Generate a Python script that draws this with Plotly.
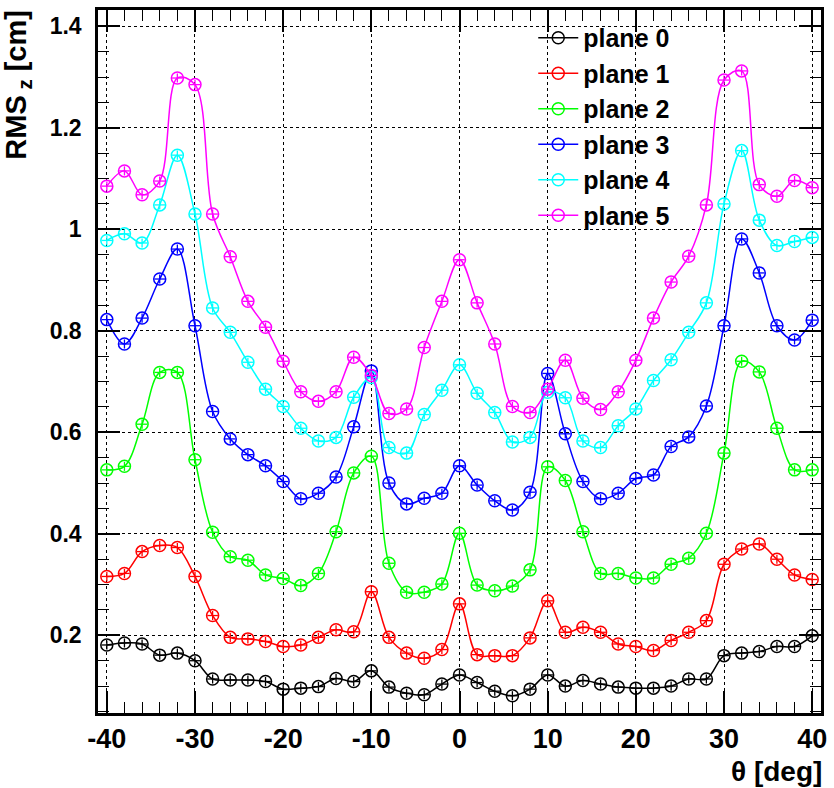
import plotly.graph_objects as go

# Scan angle in degrees
theta = list(range(-40, 41, 2))

# RMS_z [cm] per plane
plane0 = [0.181, 0.185, 0.183, 0.161, 0.165, 0.150, 0.114, 0.112, 0.112, 0.109,
          0.094, 0.096, 0.099, 0.115, 0.109, 0.130, 0.098, 0.086, 0.083, 0.104,
          0.122,
          0.107, 0.090, 0.081, 0.094, 0.122, 0.100, 0.111, 0.104, 0.098, 0.096,
          0.096, 0.100, 0.114, 0.114, 0.160, 0.165, 0.168, 0.178, 0.178, 0.199]
plane1 = [0.316, 0.322, 0.365, 0.377, 0.373, 0.316, 0.239, 0.196, 0.193, 0.188,
          0.178, 0.181, 0.196, 0.211, 0.207, 0.286, 0.196, 0.165, 0.155, 0.172,
          0.262,
          0.162, 0.160, 0.160, 0.195, 0.268, 0.206, 0.216, 0.206, 0.183, 0.178,
          0.170, 0.190, 0.206, 0.229, 0.340, 0.370, 0.380, 0.350, 0.319, 0.310]
plane2 = [0.526, 0.533, 0.616, 0.718, 0.718, 0.546, 0.403, 0.355, 0.348, 0.319,
          0.312, 0.298, 0.322, 0.404, 0.520, 0.553, 0.342, 0.285, 0.285, 0.301,
          0.401,
          0.299, 0.288, 0.297, 0.329, 0.532, 0.505, 0.404, 0.322, 0.322, 0.313,
          0.313, 0.340, 0.352, 0.401, 0.559, 0.740, 0.719, 0.608, 0.526, 0.526]
plane3 = [0.822, 0.774, 0.825, 0.902, 0.961, 0.810, 0.641, 0.587, 0.556, 0.534,
          0.503, 0.469, 0.480, 0.512, 0.611, 0.721, 0.500, 0.459, 0.470, 0.480,
          0.534,
          0.496, 0.465, 0.447, 0.482, 0.716, 0.597, 0.503, 0.469, 0.480, 0.509,
          0.516, 0.572, 0.591, 0.652, 0.810, 0.981, 0.914, 0.810, 0.782, 0.821]
plane4 = [0.978, 0.991, 0.973, 1.048, 1.146, 1.030, 0.845, 0.797, 0.738, 0.685,
          0.651, 0.608, 0.583, 0.590, 0.669, 0.708, 0.570, 0.559, 0.635, 0.683,
          0.733,
          0.677, 0.639, 0.581, 0.590, 0.679, 0.668, 0.583, 0.570, 0.613, 0.646,
          0.702, 0.743, 0.797, 0.855, 1.050, 1.155, 1.018, 0.968, 0.976, 0.984]
plane5 = [1.085, 1.115, 1.068, 1.095, 1.298, 1.285, 1.030, 0.946, 0.858, 0.807,
          0.740, 0.680, 0.661, 0.680, 0.748, 0.712, 0.637, 0.646, 0.767, 0.858,
          0.940,
          0.855, 0.774, 0.651, 0.639, 0.685, 0.742, 0.667, 0.645, 0.680, 0.742,
          0.825, 0.896, 0.947, 1.048, 1.294, 1.312, 1.088, 1.065, 1.096, 1.082]

series_names = ["plane 0", "plane 1", "plane 2", "plane 3", "plane 4", "plane 5"]
series_values = [plane0, plane1, plane2, plane3, plane4, plane5]
series_colors = ["#000000", "#ff0000", "#00ff00", "#0000ff", "#00ffff", "#ff00ff"]

# Measurement uncertainties
theta_err = 0.6
rms_err = 0.009

x_ticks = list(range(-40, 41, 10))
x_tick_text = ["-40", "-30", "-20", "-10", "0", "10", "20", "30", "40"]
y_ticks = [0.2, 0.4, 0.6, 0.8, 1.0, 1.2, 1.4]
y_tick_text = ["0.2", "0.4", "0.6", "0.8", "1", "1.2", "1.4"]

FONT = "Liberation Sans, Arial, Helvetica, sans-serif"

fig = go.Figure()
for i, (name, vals, col) in enumerate(zip(series_names, series_values, series_colors)):
    fig.add_trace(go.Scatter(
        x=theta, y=vals, name=name, mode="lines+markers",
        legendgroup=f"g{i}",
        line=dict(color=col, width=1.5, shape="spline", smoothing=1.0),
        marker=dict(symbol="circle-open", size=12, color=col, line=dict(width=1.5, color=col)),
        error_x=dict(type="constant", value=theta_err, width=0, thickness=1.3, color=col),
        error_y=dict(type="constant", value=rms_err, width=0, thickness=1.3, color=col),
    ))

axis_common = dict(
    showgrid=True, gridcolor="black", gridwidth=1, griddash="dot",
    showline=True, linecolor="black", linewidth=2.5, mirror="ticks",
    ticks="inside", ticklen=22, tickwidth=1.5, tickcolor="black",
    zeroline=False,
)

fig.update_xaxes(
    range=[-41, 41], tickvals=x_ticks, ticktext=x_tick_text,
    tickfont=dict(family=FONT, size=27, color="black", weight="bold"),
    ticklabelstandoff=0,
    minor=dict(ticks="inside", dtick=2, ticklen=11, tickwidth=1.2, tickcolor="black", showgrid=False),
    **axis_common,
)
fig.update_yaxes(
    range=[0.047, 1.432], tickvals=y_ticks, ticktext=y_tick_text,
    tickfont=dict(family=FONT, size=23, color="black", weight="bold"),
    ticklabelstandoff=9,
    minor=dict(ticks="inside", dtick=0.05, ticklen=11, tickwidth=1.2, tickcolor="black", showgrid=False),
    **axis_common,
)

fig.add_annotation(
    text="RMS<sub> z</sub> [cm]", textangle=-90,
    xref="paper", yref="paper", x=-0.11, y=1.004, xanchor="center", yanchor="top",
    showarrow=False, font=dict(family=FONT, size=29, color="black", weight="bold"),
)
fig.add_annotation(
    text="θ [deg]",
    xref="paper", yref="paper", x=1.004, y=-0.083, xanchor="right", yanchor="middle",
    showarrow=False, font=dict(family=FONT, size=28, color="black", weight="bold"),
)

fig.update_layout(
    width=834, height=788,
    margin=dict(l=98, r=7, t=10, b=75),
    paper_bgcolor="white", plot_bgcolor="white",
    showlegend=True,
    legend=dict(
        x=0.602, y=0.993, xanchor="left", yanchor="top",
        bgcolor="rgba(0,0,0,0)", borderwidth=0,
        font=dict(family=FONT, size=25, color="black", weight="bold"),
        tracegroupgap=0, itemwidth=40,
    ),
)

fig.write_html("out.html")
